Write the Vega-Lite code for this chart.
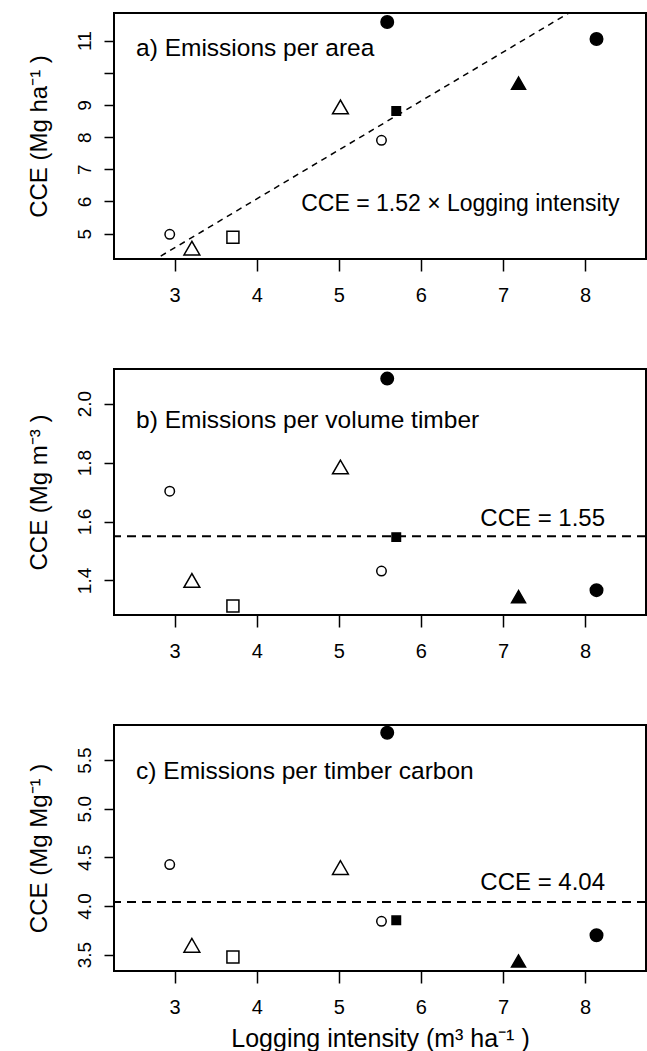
{
  "$schema": "https://vega.github.io/schema/vega-lite/v6.json",
  "background": "white",
  "padding": {"left": 25, "top": 11, "right": 0, "bottom": 0},
  "bounds": "flush",
  "spacing": 110,
  "datasets": {
    "pts": [
      {"site": "1", "grp": "G1", "logging": 2.94, "area": 4.98, "volume": 1.703, "carbon": 4.426},
      {"site": "2", "grp": "G2", "logging": 3.21, "area": 4.55, "volume": 1.40, "carbon": 3.596},
      {"site": "3", "grp": "G3", "logging": 3.71, "area": 4.89, "volume": 1.313, "carbon": 3.476},
      {"site": "4", "grp": "G2", "logging": 5.02, "area": 8.94, "volume": 1.785, "carbon": 4.395},
      {"site": "5", "grp": "G1", "logging": 5.52, "area": 7.90, "volume": 1.432, "carbon": 3.843},
      {"site": "6", "grp": "G4", "logging": 5.59, "area": 11.58, "volume": 2.085, "carbon": 5.78},
      {"site": "7", "grp": "G5", "logging": 5.70, "area": 8.81, "volume": 1.547, "carbon": 3.853},
      {"site": "8", "grp": "G6", "logging": 7.19, "area": 9.68, "volume": 1.345, "carbon": 3.435},
      {"site": "9", "grp": "G4", "logging": 8.14, "area": 11.05, "volume": 1.367, "carbon": 3.699}
    ]
  },
  "vconcat": [
    {
      "width": 532,
      "height": 246,
      "layer": [
        {
          "data": {"values": [{}]},
          "mark": {"type": "rule", "color": "black", "strokeWidth": 1.5, "strokeDash": [6, 5], "clip": true},
          "encoding": {
            "x": {"datum": 2.6, "type": "quantitative", "scale": {"domain": [2.261, 8.743], "nice": false, "zero": false},
                  "axis": {"title": null, "values": [3, 4, 5, 6, 7, 8], "format": "d"}},
            "y": {"datum": 3.952, "type": "quantitative", "scale": {"domain": [4.211, 11.86], "nice": false, "zero": false},
                  "axis": {"title": "CCE (Mg ha⁻¹ )", "values": [5, 6, 7, 8, 9, 10, 11], "labelExpr": "datum.value == 10 ? '' : datum.label"}},
            "x2": {"datum": 8.0},
            "y2": {"datum": 12.16}
          }
        },
        {
          "data": {"name": "pts"},
          "mark": {"type": "point", "stroke": "black", "strokeWidth": 1.5, "opacity": 1},
          "encoding": {
            "x": {"field": "logging", "type": "quantitative", "scale": {"domain": [2.261, 8.743], "nice": false, "zero": false},
                  "axis": {"title": null, "values": [3, 4, 5, 6, 7, 8], "format": "d"}},
            "y": {"field": "area", "type": "quantitative", "scale": {"domain": [4.211, 11.86], "nice": false, "zero": false},
                  "axis": {"title": "CCE (Mg ha⁻¹ )", "values": [5, 6, 7, 8, 9, 10, 11], "labelExpr": "datum.value == 10 ? '' : datum.label"}},
            "shape": {"field": "grp", "type": "nominal", "legend": null,
                      "scale": {"type": "ordinal", "domain": ["G1", "G2", "G3", "G4", "G5", "G6"], "range": ["circle", "triangle-up", "square", "circle", "square", "triangle-up"]}},
            "fill": {"field": "grp", "type": "nominal", "legend": null,
                     "scale": {"type": "ordinal", "domain": ["G1", "G2", "G3", "G4", "G5", "G6"], "range": ["transparent", "transparent", "transparent", "black", "black", "black"]}},
            "size": {"field": "grp", "type": "nominal", "legend": null,
                     "scale": {"type": "ordinal", "domain": ["G1", "G2", "G3", "G4", "G5", "G6"], "range": [90, 250, 144, 156, 72, 196]}}
          }
        },
        {
          "data": {"values": [{}]},
          "mark": {"type": "text", "text": "a) Emissions per area", "align": "left", "baseline": "alphabetic", "fontSize": 24.5, "color": "black"},
          "encoding": {
            "x": {"datum": 2.53, "type": "quantitative", "scale": {"domain": [2.261, 8.743], "nice": false, "zero": false},
                  "axis": {"title": null, "values": [3, 4, 5, 6, 7, 8], "format": "d"}},
            "y": {"datum": 10.51, "type": "quantitative", "scale": {"domain": [4.211, 11.86], "nice": false, "zero": false},
                  "axis": {"title": "CCE (Mg ha⁻¹ )", "values": [5, 6, 7, 8, 9, 10, 11], "labelExpr": "datum.value == 10 ? '' : datum.label"}}
          }
        },
        {
          "data": {"values": [{}]},
          "mark": {"type": "text", "text": "CCE = 1.52 × Logging intensity", "align": "left", "baseline": "alphabetic", "fontSize": 23, "color": "black"},
          "encoding": {
            "x": {"datum": 4.542, "type": "quantitative", "scale": {"domain": [2.261, 8.743], "nice": false, "zero": false},
                  "axis": {"title": null, "values": [3, 4, 5, 6, 7, 8], "format": "d"}},
            "y": {"datum": 5.70, "type": "quantitative", "scale": {"domain": [4.211, 11.86], "nice": false, "zero": false},
                  "axis": {"title": "CCE (Mg ha⁻¹ )", "values": [5, 6, 7, 8, 9, 10, 11], "labelExpr": "datum.value == 10 ? '' : datum.label"}}
          }
        }
      ]
    },
    {
      "width": 532,
      "height": 246,
      "layer": [
        {
          "data": {"values": [{}]},
          "mark": {"type": "rule", "color": "black", "strokeWidth": 2, "strokeDash": [9, 6]},
          "encoding": {
            "y": {"datum": 1.55, "type": "quantitative", "scale": {"domain": [1.2827, 2.1176], "nice": false, "zero": false},
                  "axis": {"title": "CCE (Mg m⁻³ )", "values": [1.4, 1.6, 1.8, 2.0], "format": ".1f"}}
          }
        },
        {
          "data": {"name": "pts"},
          "mark": {"type": "point", "stroke": "black", "strokeWidth": 1.5, "opacity": 1},
          "encoding": {
            "x": {"field": "logging", "type": "quantitative", "scale": {"domain": [2.261, 8.743], "nice": false, "zero": false},
                  "axis": {"title": null, "values": [3, 4, 5, 6, 7, 8], "format": "d"}},
            "y": {"field": "volume", "type": "quantitative", "scale": {"domain": [1.2827, 2.1176], "nice": false, "zero": false},
                  "axis": {"title": "CCE (Mg m⁻³ )", "values": [1.4, 1.6, 1.8, 2.0], "format": ".1f"}},
            "shape": {"field": "grp", "type": "nominal", "legend": null,
                      "scale": {"type": "ordinal", "domain": ["G1", "G2", "G3", "G4", "G5", "G6"], "range": ["circle", "triangle-up", "square", "circle", "square", "triangle-up"]}},
            "fill": {"field": "grp", "type": "nominal", "legend": null,
                     "scale": {"type": "ordinal", "domain": ["G1", "G2", "G3", "G4", "G5", "G6"], "range": ["transparent", "transparent", "transparent", "black", "black", "black"]}},
            "size": {"field": "grp", "type": "nominal", "legend": null,
                     "scale": {"type": "ordinal", "domain": ["G1", "G2", "G3", "G4", "G5", "G6"], "range": [90, 250, 144, 156, 72, 196]}}
          }
        },
        {
          "data": {"values": [{}]},
          "mark": {"type": "text", "text": "b) Emissions per volume timber", "align": "left", "baseline": "alphabetic", "fontSize": 24.5, "color": "black"},
          "encoding": {
            "x": {"datum": 2.53, "type": "quantitative", "scale": {"domain": [2.261, 8.743], "nice": false, "zero": false},
                  "axis": {"title": null, "values": [3, 4, 5, 6, 7, 8], "format": "d"}},
            "y": {"datum": 1.918, "type": "quantitative", "scale": {"domain": [1.2827, 2.1176], "nice": false, "zero": false},
                  "axis": {"title": "CCE (Mg m⁻³ )", "values": [1.4, 1.6, 1.8, 2.0], "format": ".1f"}}
          }
        },
        {
          "data": {"values": [{}]},
          "mark": {"type": "text", "text": "CCE = 1.55", "align": "right", "baseline": "alphabetic", "fontSize": 24, "color": "black"},
          "encoding": {
            "x": {"datum": 8.244, "type": "quantitative", "scale": {"domain": [2.261, 8.743], "nice": false, "zero": false},
                  "axis": {"title": null, "values": [3, 4, 5, 6, 7, 8], "format": "d"}},
            "y": {"datum": 1.584, "type": "quantitative", "scale": {"domain": [1.2827, 2.1176], "nice": false, "zero": false},
                  "axis": {"title": "CCE (Mg m⁻³ )", "values": [1.4, 1.6, 1.8, 2.0], "format": ".1f"}}
          }
        }
      ]
    },
    {
      "width": 532,
      "height": 246,
      "layer": [
        {
          "data": {"values": [{}]},
          "mark": {"type": "rule", "color": "black", "strokeWidth": 2, "strokeDash": [9, 6]},
          "encoding": {
            "y": {"datum": 4.04, "type": "quantitative", "scale": {"domain": [3.332, 5.86], "nice": false, "zero": false},
                  "axis": {"title": "CCE (Mg Mg⁻¹ )", "values": [3.5, 4.0, 4.5, 5.0, 5.5], "format": ".1f"}}
          }
        },
        {
          "data": {"name": "pts"},
          "mark": {"type": "point", "stroke": "black", "strokeWidth": 1.5, "opacity": 1},
          "encoding": {
            "x": {"field": "logging", "type": "quantitative", "scale": {"domain": [2.261, 8.743], "nice": false, "zero": false},
                  "axis": {"title": "Logging intensity (m³  ha⁻¹ )", "values": [3, 4, 5, 6, 7, 8], "format": "d"}},
            "y": {"field": "carbon", "type": "quantitative", "scale": {"domain": [3.332, 5.86], "nice": false, "zero": false},
                  "axis": {"title": "CCE (Mg Mg⁻¹ )", "values": [3.5, 4.0, 4.5, 5.0, 5.5], "format": ".1f"}},
            "shape": {"field": "grp", "type": "nominal", "legend": null,
                      "scale": {"type": "ordinal", "domain": ["G1", "G2", "G3", "G4", "G5", "G6"], "range": ["circle", "triangle-up", "square", "circle", "square", "triangle-up"]}},
            "fill": {"field": "grp", "type": "nominal", "legend": null,
                     "scale": {"type": "ordinal", "domain": ["G1", "G2", "G3", "G4", "G5", "G6"], "range": ["transparent", "transparent", "transparent", "black", "black", "black"]}},
            "size": {"field": "grp", "type": "nominal", "legend": null,
                     "scale": {"type": "ordinal", "domain": ["G1", "G2", "G3", "G4", "G5", "G6"], "range": [90, 250, 144, 156, 72, 196]}}
          }
        },
        {
          "data": {"values": [{}]},
          "mark": {"type": "text", "text": "c) Emissions per timber carbon", "align": "left", "baseline": "alphabetic", "fontSize": 24.5, "color": "black"},
          "encoding": {
            "x": {"datum": 2.53, "type": "quantitative", "scale": {"domain": [2.261, 8.743], "nice": false, "zero": false},
                  "axis": {"title": "Logging intensity (m³  ha⁻¹ )", "values": [3, 4, 5, 6, 7, 8], "format": "d"}},
            "y": {"datum": 5.305, "type": "quantitative", "scale": {"domain": [3.332, 5.86], "nice": false, "zero": false},
                  "axis": {"title": "CCE (Mg Mg⁻¹ )", "values": [3.5, 4.0, 4.5, 5.0, 5.5], "format": ".1f"}}
          }
        },
        {
          "data": {"values": [{}]},
          "mark": {"type": "text", "text": "CCE = 4.04", "align": "right", "baseline": "alphabetic", "fontSize": 24, "color": "black"},
          "encoding": {
            "x": {"datum": 8.244, "type": "quantitative", "scale": {"domain": [2.261, 8.743], "nice": false, "zero": false},
                  "axis": {"title": "Logging intensity (m³  ha⁻¹ )", "values": [3, 4, 5, 6, 7, 8], "format": "d"}},
            "y": {"datum": 4.163, "type": "quantitative", "scale": {"domain": [3.332, 5.86], "nice": false, "zero": false},
                  "axis": {"title": "CCE (Mg Mg⁻¹ )", "values": [3.5, 4.0, 4.5, 5.0, 5.5], "format": ".1f"}}
          }
        }
      ]
    }
  ],
  "config": {
    "font": "Liberation Sans",
    "view": {"stroke": "black", "strokeWidth": 2},
    "axis": {
      "domain": false, "grid": false, "ticks": true,
      "tickColor": "black", "tickWidth": 1.5,
      "labelColor": "black", "titleColor": "black",
      "labelFont": "Liberation Sans", "titleFont": "Liberation Sans",
      "titleFontWeight": "normal", "labelOverlap": false, "labelFlush": false
    },
    "axisX": {"tickSize": 12, "labelFontSize": 20, "labelPadding": 14, "titleFontSize": 25, "titleY": 75, "titleBaseline": "alphabetic"},
    "axisY": {"tickSize": 10, "labelFontSize": 19, "labelAngle": -90, "labelAlign": "center", "labelBaseline": "alphabetic", "labelPadding": 14,
              "titleFontSize": 24, "titleX": -68, "titleBaseline": "alphabetic", "titleAngle": -90}
  }
}
